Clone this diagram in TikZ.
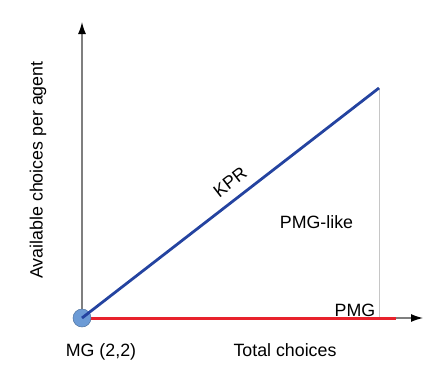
\documentclass[tikz,border=0pt]{standalone}
\usepackage{fontspec}
\setmainfont{Liberation Sans}
\usepackage{xcolor}
\usepackage{tikz}
\usetikzlibrary{arrows.meta}
\definecolor{kprblue}{HTML}{2443A0}
\definecolor{pmgred}{HTML}{E8222C}
\definecolor{mgdot}{HTML}{6C9BD6}
\definecolor{axisgray}{HTML}{7F7F7F}

\begin{document}
\begin{tikzpicture}[x=1pt,y=-1pt,
  axis/.style={draw=axisgray, line width=1.3pt, -{Latex[length=12pt,width=8pt,color=black]}},
  lbl/.style={font=\fontsize{17.8}{20}\selectfont, inner sep=0pt}]
\useasboundingbox (0,0) rectangle (436,373);
\coordinate (org) at (82,318);
\coordinate (ytip) at (82,22);
\coordinate (xtip) at (423,318);
\coordinate (pmgend) at (396,318);
\coordinate (kprend) at (379,88);
\coordinate (base) at (379,318);
% axes and limits
\draw[axis] (org) -- (ytip);
\draw[axis] (org) -- (xtip);
\draw[gray!45, line width=0.7pt] (kprend) -- (base);
\draw[pmgred, line width=3pt] (org) -- (pmgend);
\node[circle, fill=mgdot, draw=mgdot!75!black, line width=0.5pt,
      minimum size=18pt, inner sep=0pt] (mg) at (org) {};
\draw[kprblue, line width=2.8pt] (org) -- (kprend);
% labels
\node[lbl, rotate=90] (ylbl) at (38,170) {Available choices per agent};
\node[lbl, anchor=base] (mglbl) at (101,356) {MG (2,2)};
\node[lbl, anchor=base] (xlbl) at (285,356) {Total choices};
\node[lbl, rotate=37.8] (kpr) at (230,182) {KPR};
\node[lbl, anchor=base] (like) at (316.5,228) {PMG-like};
\node[lbl, anchor=base] (pmg) at (355,316) {PMG};
\end{tikzpicture}
\end{document}
